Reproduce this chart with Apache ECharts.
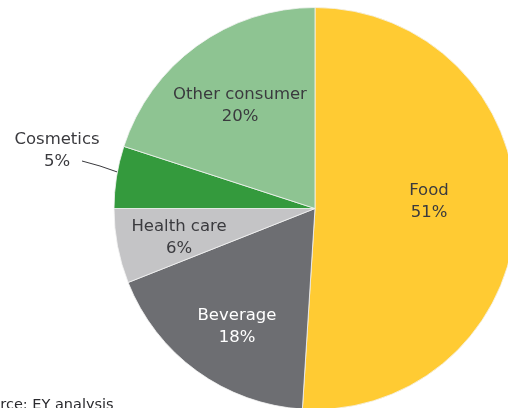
<!DOCTYPE html>
<html>
<head>
<meta charset="utf-8">
<script src="https://cdn.jsdelivr.net/npm/echarts@6/dist/echarts.min.js"></script>
<style>
  html, body { margin: 0; padding: 0; background: #fff; }
  #chart { width: 508px; height: 408px; }
</style>
</head>
<body>
<div id="chart"></div>
<script>
// Sector shares (%), clockwise from 12 o'clock
const categories = ['Food', 'Beverage', 'Health care', 'Cosmetics', 'Other consumer'];
const shares = [51, 18, 6, 5, 20];
const sourceNote = 'Source: EY analysis';

const colors = ['#FFCB33', '#6D6E72', '#C4C4C6', '#349A3D', '#8EC492'];
const textColors = ['#3a3a3e', '#ffffff', '#3a3a3e', '#3a3a3e', '#3a3a3e'];

// Label anchor points (centre of the two-line label)
const labelSpots = [
  [429, 202],
  [237, 327],
  [179, 238],
  [57, 151],
  [240, 106]
];

const chart = echarts.init(document.getElementById('chart'), null, { renderer: 'canvas' });

const data = categories.map((name, i) => ({
  name: name,
  value: shares[i],
  itemStyle: { color: colors[i] },
  label: {
    color: textColors[i],
    position: name === 'Cosmetics' ? 'outside' : 'inside'
  },
  labelLine: { show: name === 'Cosmetics' }
}));

chart.setOption({
  animation: false,
  backgroundColor: '#ffffff',
  series: [{
    type: 'pie',
    center: [315, 208.5],
    radius: [0, 201],
    startAngle: 90,
    clockwise: true,
    avoidLabelOverlap: false,
    data: data,
    itemStyle: { borderColor: '#f4f4f4', borderWidth: 0.8 },
    label: {
      show: true,
      formatter: '{b}\n{c}%',
      fontFamily: 'DejaVu Sans',
      fontSize: 16.5,
      lineHeight: 22,
      align: 'center'
    },
    labelLine: {
      show: false,
      length: 10,
      length2: 30,
      lineStyle: { color: '#3a3a3e', width: 1 }
    },
    emphasis: { disabled: true },
    labelLayout: function (p) {
      const spot = labelSpots[p.dataIndex];
      const out = {
        x: spot[0],
        y: spot[1],
        align: 'center',
        verticalAlign: 'middle'
      };
      if (categories[p.dataIndex] === 'Cosmetics' && p.labelLinePoints) {
        const start = p.labelLinePoints[0];
        out.labelLinePoints = [
          [start[0] + 1, start[1] - 5],
          [100, 166],
          [82, 161]
        ];
      }
      return out;
    }
  }],
  graphic: [{
    type: 'text',
    left: -27,
    top: 398,
    style: {
      text: sourceNote,
      font: '14.5px "DejaVu Sans"',
      fill: '#2a2a2e'
    }
  }]
});
</script>
</body>
</html>
